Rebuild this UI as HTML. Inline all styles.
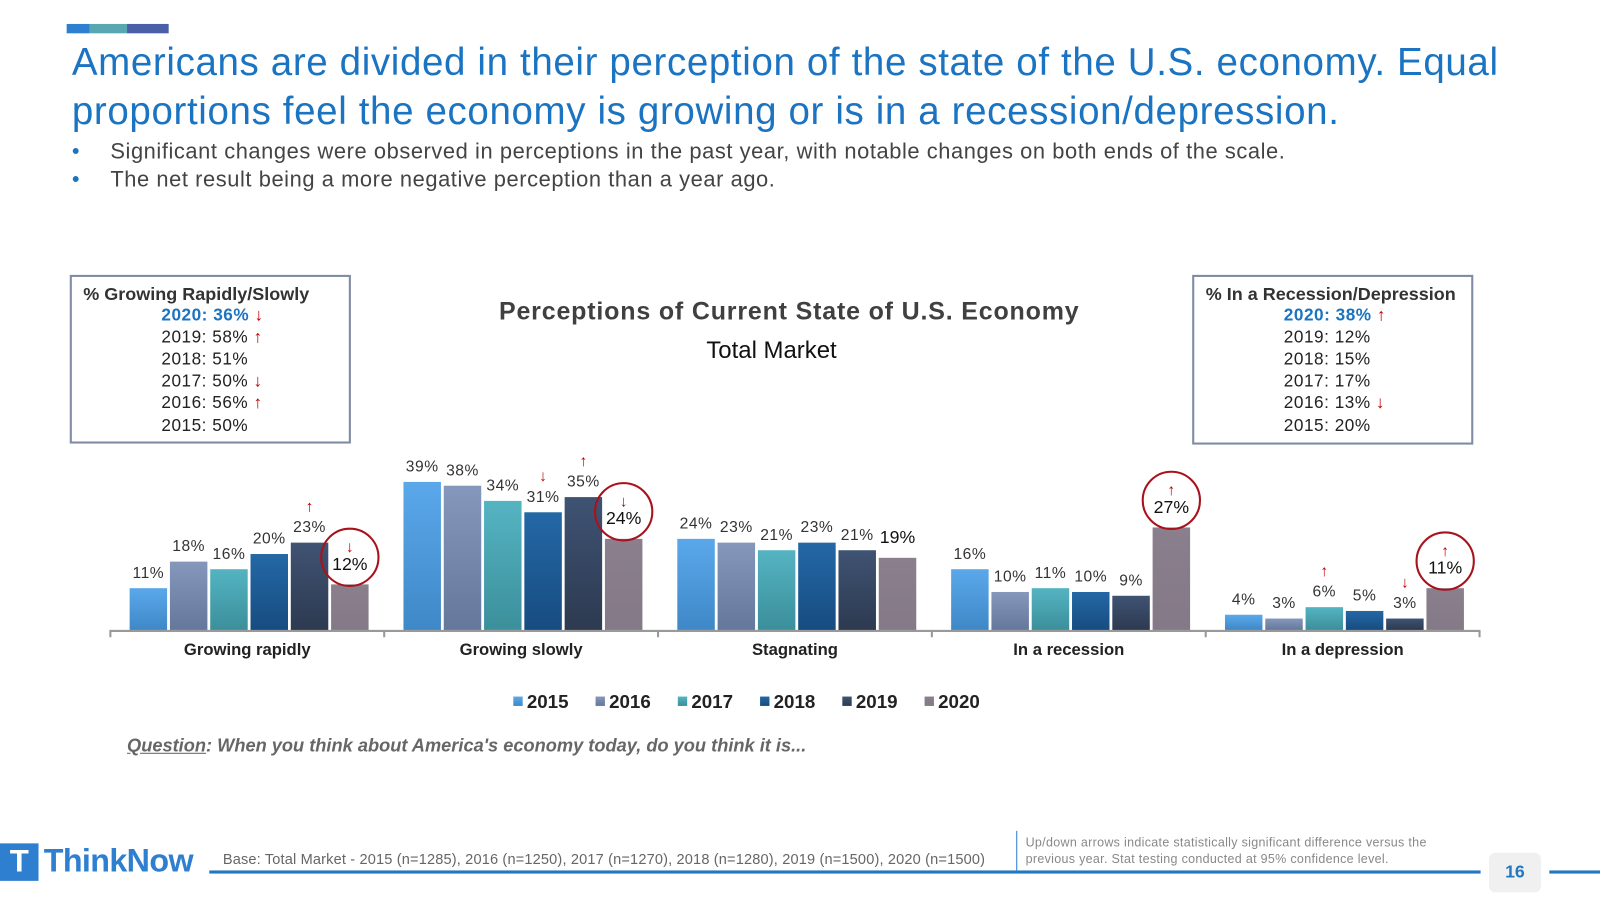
<!DOCTYPE html>
<html><head><meta charset="utf-8"><style>
body{margin:0;width:1600px;height:900px;background:#fff;font-family:"Liberation Sans",Arial,sans-serif;position:relative;overflow:hidden}
#wrap{position:absolute;left:0;top:0;width:1537px;height:865px;transform:scale(1.0412);transform-origin:0 0}
.abs{position:absolute}
h1{position:absolute;left:69px;top:36px;margin:0;font-weight:normal;font-size:37px;letter-spacing:0.6px;line-height:47px;color:#1b74c1;width:1460px}
.bul{left:69px;font-size:21px;color:#444;letter-spacing:0.55px}
.box{border:2px solid #7f8ba3;background:#fff;font-size:16.5px;color:#222;line-height:21.1px}
.box .h{font-weight:bold;color:#333;font-size:17.3px}
.box .r{padding-left:86px;letter-spacing:0.5px}
.up{color:#c00000;font-weight:bold}
</style></head><body>
<div id="wrap">
<div class="abs" style="left:64px;top:23px;width:22px;height:9px;background:#2f7fd0"></div>
<div class="abs" style="left:86px;top:23px;width:36px;height:9px;background:#58a7b3"></div>
<div class="abs" style="left:122px;top:23px;width:40px;height:9px;background:#4a5fa8"></div>
<h1>Americans are divided in their perception of the state of the U.S. economy. Equal proportions feel the economy is growing or is in a recession/depression.</h1>
<div class="abs bul" style="top:134px"><span style="color:#1b74c1">•</span><span style="position:absolute;left:37px;white-space:nowrap">Significant changes were observed in perceptions in the past year, with notable changes on both ends of the scale.</span></div>
<div class="abs bul" style="top:161px"><span style="color:#1b74c1">•</span><span style="position:absolute;left:37px;white-space:nowrap">The net result being a more negative perception than a year ago.</span></div>

<div class="abs box" style="left:67px;top:264px;width:266px;height:158px">
<div class="h" style="padding:6px 0 0 11px">% Growing Rapidly/Slowly</div>
<div class="r" style="color:#1b74c1;font-weight:bold">2020: 36% <span class="up">↓</span></div>
<div class="r">2019: 58% <span class="up">↑</span></div>
<div class="r">2018: 51%</div>
<div class="r">2017: 50% <span class="up">↓</span></div>
<div class="r">2016: 56% <span class="up">↑</span></div>
<div class="r">2015: 50%</div>
</div>
<div class="abs box" style="left:1145px;top:264px;width:266px;height:159px">
<div class="h" style="padding:6px 0 0 11px">% In a Recession/Depression</div>
<div class="r" style="color:#1b74c1;font-weight:bold">2020: 38% <span class="up">↑</span></div>
<div class="r">2019: 12%</div>
<div class="r">2018: 15%</div>
<div class="r">2017: 17%</div>
<div class="r">2016: 13% <span class="up">↓</span></div>
<div class="r">2015: 20%</div>
</div>

<svg class="abs" style="left:0;top:0" width="1537" height="865" id="chart">
<defs>
<linearGradient id="g0" x1="0" y1="0" x2="0" y2="1"><stop offset="0" stop-color="#5aa8ea"/><stop offset="1" stop-color="#3f88c8"/></linearGradient>
<linearGradient id="g1" x1="0" y1="0" x2="0" y2="1"><stop offset="0" stop-color="#8597bb"/><stop offset="1" stop-color="#65779b"/></linearGradient>
<linearGradient id="g2" x1="0" y1="0" x2="0" y2="1"><stop offset="0" stop-color="#55b4c2"/><stop offset="1" stop-color="#3b8f9b"/></linearGradient>
<linearGradient id="g3" x1="0" y1="0" x2="0" y2="1"><stop offset="0" stop-color="#2468a6"/><stop offset="1" stop-color="#174c80"/></linearGradient>
<linearGradient id="g4" x1="0" y1="0" x2="0" y2="1"><stop offset="0" stop-color="#3f5373"/><stop offset="1" stop-color="#2d3a50"/></linearGradient>
<linearGradient id="g5" x1="0" y1="0" x2="0" y2="1"><stop offset="0" stop-color="#8a7f8c"/><stop offset="1" stop-color="#847987"/></linearGradient>
</defs>
<text x="758" y="307" text-anchor="middle" font-size="24" font-weight="bold" letter-spacing="0.8" fill="#404040">Perceptions of Current State of U.S. Economy</text>
<text x="741" y="344" text-anchor="middle" font-size="23" fill="#111">Total Market</text>
<g id="plot"></g>
</svg>

<div class="abs" style="left:122px;top:706px;font-size:17.5px;font-style:italic;font-weight:bold;color:#666"><u>Question</u>: When you think about America's economy today, do you think it is...</div>

<div class="abs" style="left:0;top:810px;width:37px;height:36px;background:#2f7fd0;color:#fff;font-weight:bold;font-size:30px;text-align:center;line-height:36px">T</div>
<div class="abs" style="left:42px;top:809px;font-size:31px;font-weight:bold;color:#2f7fd0;letter-spacing:-0.6px">ThinkNow</div>
<div class="abs" style="left:214px;top:817px;font-size:14px;letter-spacing:0.15px;color:#666;white-space:nowrap">Base: Total Market - 2015 (n=1285), 2016 (n=1250), 2017 (n=1270), 2018 (n=1280), 2019 (n=1500), 2020 (n=1500)</div>
<div class="abs" style="left:976px;top:798px;width:1px;height:38px;background:#2f7fd0"></div>
<div class="abs" style="left:985px;top:801px;font-size:12px;letter-spacing:0.3px;color:#888;line-height:16px;width:400px">Up/down arrows indicate statistically significant difference versus the previous year.  Stat testing conducted at 95% confidence level.</div>
<div class="abs" style="left:201px;top:836px;width:1221px;height:3px;background:#1f78c1"></div>
<div class="abs" style="left:1488px;top:836px;width:60px;height:3px;background:#1f78c1"></div>
<div class="abs" style="left:1430px;top:819px;width:50px;height:38px;background:#f0f0f0;border-radius:6px;text-align:center;line-height:38px;font-weight:bold;font-size:17px;color:#1f78c1">16</div>
</div>

<script>
const categories=["Growing rapidly","Growing slowly","Stagnating","In a recession","In a depression"];
const years=["2015","2016","2017","2018","2019","2020"];
const s2015=[11,39,24,16,4];
const s2016=[18,38,23,10,3];
const s2017=[16,34,21,11,6];
const s2018=[20,31,23,10,5];
const s2019=[23,35,21,9,3];
const s2020=[12,24,19,27,11];
const a2017=[0,0,0,0,1];
const a2018=[0,-1,0,0,0];
const a2019=[1,1,0,0,-1];
const a2020=[-1,-1,0,1,1];
const series=[s2015,s2016,s2017,s2018,s2019,s2020];
const arrows=[[0,0,0,0,0],[0,0,0,0,0],a2017,a2018,a2019,a2020];
const NS='http://www.w3.org/2000/svg';
const g=document.getElementById('plot');
const x0=106,x1=1421,base=605,k=3.645;
const gw=(x1-x0)/categories.length;
const y=v=>base-v*k;
const bx=(c,s)=>x0+c*gw+18.5+s*38.7;
function mk(t,a){const e=document.createElementNS(NS,t);for(const n in a)e.setAttribute(n,a[n]);g.appendChild(e);return e;}
mk('line',{x1:x0,x2:x1,y1:base+1,y2:base+1,stroke:'#999','stroke-width':2});
for(let c=0;c<=categories.length;c++){mk('line',{x1:x0+c*gw,x2:x0+c*gw,y1:base,y2:base+7,stroke:'#999','stroke-width':2});}
categories.forEach((cat,c)=>{
 const t=mk('text',{x:x0+c*gw+gw/2,y:629,'text-anchor':'middle','font-size':16,'font-weight':'bold',fill:'#222'});
 
 
 t.textContent=cat;
 series.forEach((sv,s)=>{
  const v=sv[c],xx=bx(c,s);
  const r=mk('rect',{x:xx,y:y(v),width:36,height:v*k,fill:'url(#g'+s+')'});
  
  
  const last=s===5;
  const ly=y(v)-(last?14:10);
  const lb=mk('text',{x:xx+18,y:ly,'text-anchor':'middle','font-size':last?17:15,fill:last?'#111':'#333','letter-spacing':last?0:0.5});
  
  
  lb.textContent=v+'%';
  const a=arrows[s][c];
  if(a!==0){
   const ar=mk('text',{x:xx+18,y:last?ly-17:ly-20,'text-anchor':'middle','font-size':15,'font-weight':'bold',fill:'#c00000'});
   
   
   ar.textContent=a>0?'↑':'↓';
   if(last){
    const ci=mk('circle',{cx:xx+18,cy:ly-12,r:27.5,fill:'none',stroke:'#a8121c','stroke-width':2});
    
    
   }
  }
 });
});
years.forEach((yr,i)=>{
 const lx=493+i*79;
 const r=mk('rect',{x:lx,y:669,width:9,height:9,fill:'url(#g'+i+')'});
 
 
 const t=mk('text',{x:lx+13,y:680,'font-size':18,'font-weight':'bold',fill:'#222'});
 
 
 t.textContent=yr;
});
</script>
</body></html>
